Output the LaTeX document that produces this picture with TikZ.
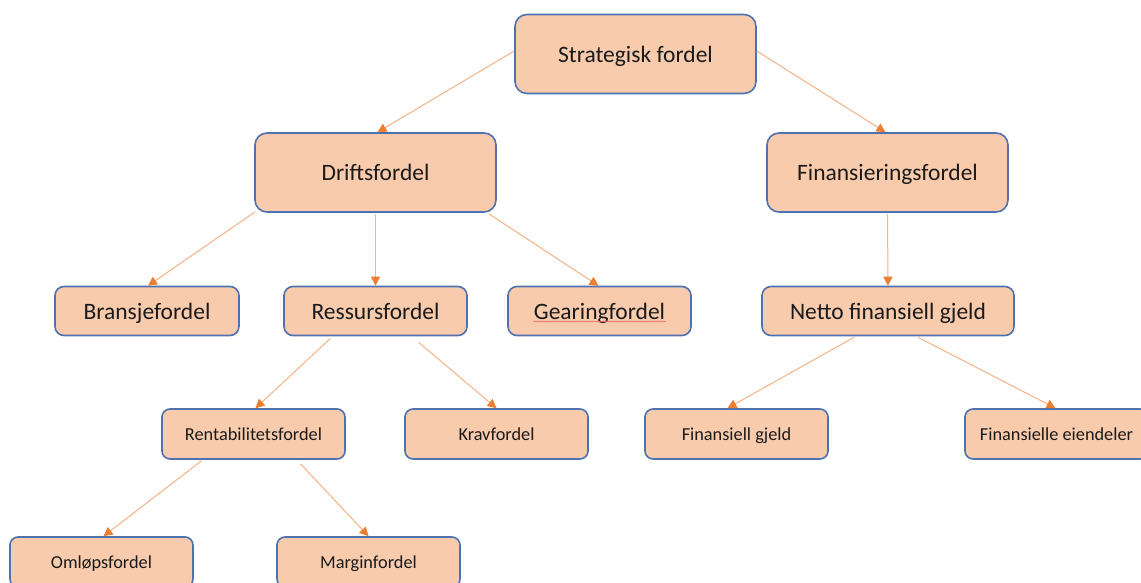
\documentclass[tikz,border=0pt]{standalone}
\usepackage{fontspec}
\setmainfont{Carlito}
\usetikzlibrary{arrows.meta,decorations.pathmorphing}

\definecolor{boxfill}{HTML}{F8CBAD}
\definecolor{boxline}{HTML}{4F71B0}
\definecolor{linkline}{HTML}{F4B183}
\definecolor{tipcol}{HTML}{ED7D31}
\definecolor{txt}{HTML}{1A1A1A}
\definecolor{spellred}{HTML}{F07070}

\tikzset{
  box/.style={draw=boxline, fill=boxfill, line width=1.6pt, text=txt,
    inner sep=0pt, align=center, text depth=0pt},
  bigbox/.style={box, rounded corners=12pt, minimum width=241pt,
    minimum height=79pt, text height=16.5pt,
    font=\fontsize{23.5}{28}\selectfont},
  midbox/.style={box, rounded corners=9pt, minimum height=49pt,
    text height=16.5pt, font=\fontsize{23.5}{28}\selectfont},
  smallbox/.style={box, rounded corners=8pt, minimum width=183pt,
    minimum height=50pt, text height=13pt,
    font=\fontsize{18.3}{22}\selectfont},
  link/.style={draw=linkline, line width=1pt,
    -{Triangle[length=9pt,width=9pt,color=tipcol]}},
}

\begin{document}
\begin{tikzpicture}[x=1pt,y=-1pt]
\useasboundingbox (0,0) rectangle (1141,582);
\clip (0,0) rectangle (1141,582);

% level 0 and 1
\node[bigbox] (strat) at (635.5,54) {Strategisk fordel};
\node[bigbox] (drift) at (375.5,172.5) {Driftsfordel};
\node[bigbox] (finans) at (887.5,172.5) {Finansieringsfordel};

% level 2
\node[midbox, minimum width=184pt] (bransje) at (147,311) {Bransjefordel};
\node[midbox, minimum width=183pt] (ressurs) at (375.5,311) {Ressursfordel};
\node[midbox, minimum width=183pt] (gearing) at (599.5,311) {Gearingfordel};
\node[midbox, minimum width=252pt] (netto) at (888,311) {Netto finansiell gjeld};

% level 3
\node[smallbox] (rent) at (253.5,434) {Rentabilitetsfordel};
\node[smallbox] (krav) at (496.5,434) {Kravfordel};
\node[smallbox] (fgjeld) at (736.5,434) {Finansiell gjeld};
\node[smallbox] (feiend) at (1056.5,434) {Finansielle eiendeler};

% level 4
\node[smallbox] (omlop) at (101.5,562) {Omløpsfordel};
\node[smallbox] (margin) at (368.5,562) {Marginfordel};

% spell-check squiggle under the gearing label
\draw[spellred, line width=0.7pt, decorate,
  decoration={snake, amplitude=0.5pt, segment length=3pt}]
  ([shift={(-66,10.5)}]gearing.center) -- ([shift={(66,10.5)}]gearing.center);

% connectors
\draw[link] ([yshift=3]strat.west) -- ([xshift=2]drift.north);
\draw[link] ([yshift=3]strat.east) -- ([xshift=-2]finans.north);
\draw[link] ([shift={(1,-1)}]drift.south west) -- ([xshift=1]bransje.north);
\draw[link] ([shift={(0,1)}]drift.south) -- (ressurs.north);
\draw[link] ([shift={(-8,1)}]drift.south east) -- ([xshift=-1]gearing.north);
\draw[link] ([shift={(0,1)}]finans.south) -- (netto.north);
\draw[link] ([shift={(-45,2)}]ressurs.south) -- ([xshift=2]rent.north);
\draw[link] ([shift={(43,6)}]ressurs.south) -- (krav.north);
\draw[link] ([shift={(-34,1)}]netto.south) -- ([xshift=-9]fgjeld.north);
\draw[link] ([shift={(30,1)}]netto.south) -- ([xshift=-1]feiend.north);
\draw[link] ([shift={(-52,1)}]rent.south) -- ([xshift=2]omlop.north);
\draw[link] ([shift={(47,4)}]rent.south) -- (margin.north);
\end{tikzpicture}
\end{document}
